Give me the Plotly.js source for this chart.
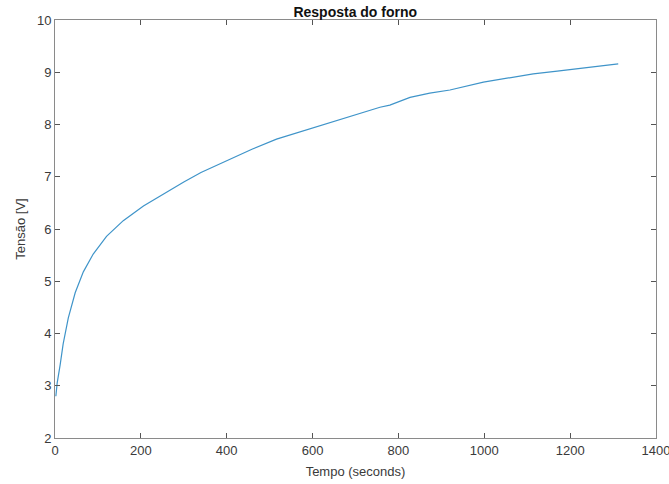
<!DOCTYPE html>
<html>
<head>
<meta charset="utf-8">
<script src="https://cdn.plot.ly/plotly-3.0.1.min.js"></script>
<style>html,body{margin:0;padding:0;background:#fff;}#chart{width:669px;height:484px;}</style>
</head>
<body>
<div id="chart"></div>
<script>
var tempo = [2, 5, 12, 19, 31, 47, 66, 89, 120, 159, 206, 252, 300, 340, 408, 460, 516, 570, 625, 690, 757, 780, 804, 827, 873, 920, 998, 1060, 1114, 1170, 1231, 1280, 1312];
var tensao = [2.8, 3.05, 3.4, 3.8, 4.3, 4.78, 5.18, 5.52, 5.86, 6.16, 6.44, 6.67, 6.9, 7.08, 7.34, 7.53, 7.72, 7.86, 8.0, 8.16, 8.33, 8.37, 8.45, 8.52, 8.6, 8.66, 8.81, 8.89, 8.97, 9.02, 9.08, 9.13, 9.16];
var xTicks = [0, 200, 400, 600, 800, 1000, 1200, 1400];
var yTicks = [2, 3, 4, 5, 6, 7, 8, 9, 10];

var axisCommon = {
  showline: true, linecolor: '#8a8a8a', linewidth: 1, mirror: 'ticks',
  ticks: 'inside', ticklen: 5, tickcolor: '#555', tickwidth: 1,
  showgrid: false, zeroline: false, ticklabeloverflow: 'allow',
  tickfont: {family: 'Liberation Sans, Arial, sans-serif', size: 13, color: '#3a3a3a'}
};

Plotly.newPlot('chart', [{
  x: tempo, y: tensao, type: 'scatter', mode: 'lines',
  line: {color: '#3f94c9', width: 1.2}
}], {
  width: 669, height: 484,
  margin: {l: 55, r: 13, t: 20, b: 46},
  paper_bgcolor: '#fff', plot_bgcolor: '#fff',
  showlegend: false,
  title: {text: '<b>Resposta do forno</b>', x: 0.531, xanchor: 'center', y: 0.976, yanchor: 'middle',
    font: {family: 'Liberation Sans, Arial, sans-serif', size: 14, color: '#111'}},
  xaxis: Object.assign({}, axisCommon, {
    range: [0, 1400], tickvals: xTicks, ticktext: xTicks.map(String),
    title: {text: 'Tempo (seconds)', standoff: 10, font: {family: 'Liberation Sans, Arial, sans-serif', size: 13, color: '#3a3a3a'}}
  }),
  yaxis: Object.assign({}, axisCommon, {
    range: [2, 10], tickvals: yTicks, ticktext: yTicks.map(String),
    title: {text: 'Tensão [V]', standoff: 8, font: {family: 'Liberation Sans, Arial, sans-serif', size: 13, color: '#3a3a3a'}}
  })
}, {staticPlot: true, displayModeBar: false});
</script>
</body>
</html>
